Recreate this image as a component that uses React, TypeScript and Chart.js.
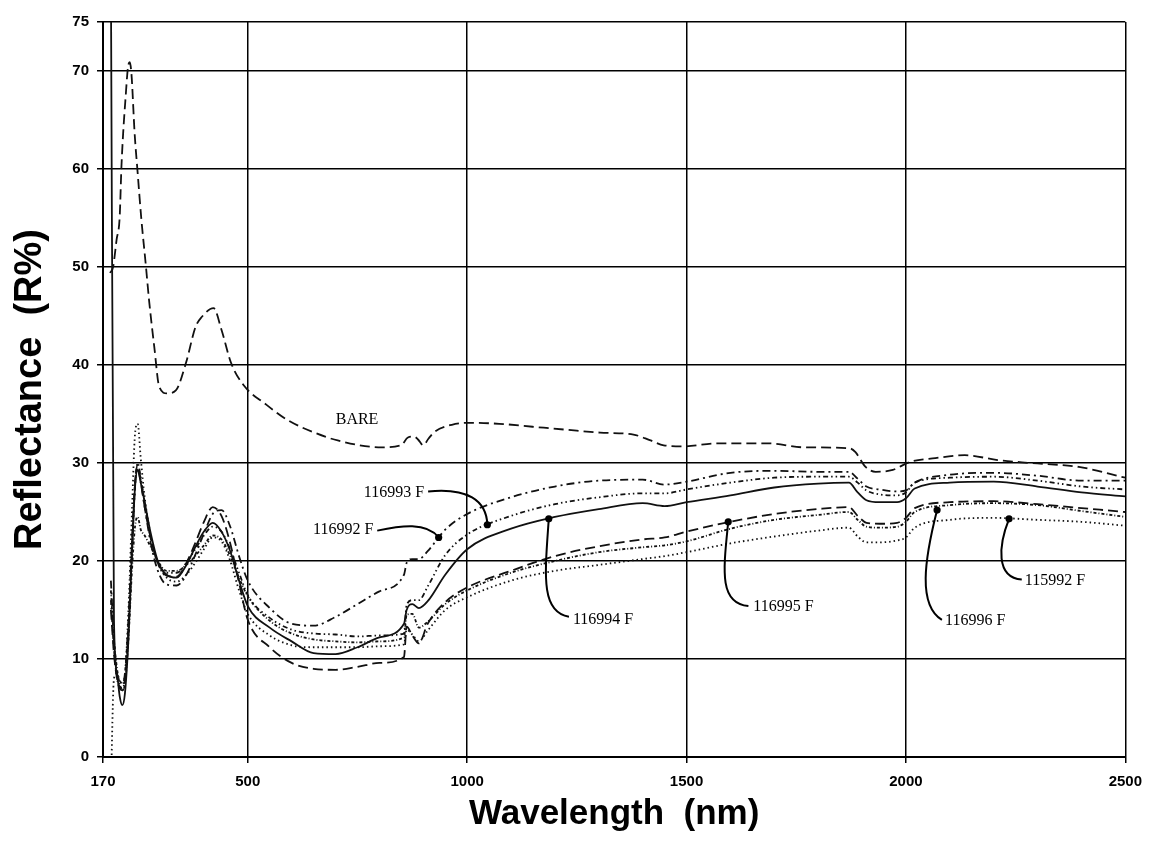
import React, { useEffect, useRef } from "react";
import { Chart, registerables } from "chart.js";

Chart.register(...registerables);

// ---------- axis ticks ----------
const X_TICKS = [170, 500, 1000, 1500, 2000, 2500];
const Y_TICKS = [0, 10, 20, 30, 40, 50, 60, 70, 75];

// ---------- BARE (uncoated) spectrum ----------
const BARE_WL = [186, 193, 201, 208, 212, 216, 221, 227, 231, 235,
  242, 249, 257, 268, 275, 287, 298, 316, 336, 359,
  381, 395, 422, 440, 462, 493, 538, 590, 652, 705,
  805, 849, 865, 879, 888, 900, 912, 926, 965, 1005,
  1073, 1149, 1225, 1303, 1379, 1418, 1448, 1494, 1568, 1690,
  1765, 1872, 1885, 1908, 1931, 1970, 2009, 2067, 2134, 2209,
  2283, 2394, 2500];
const BARE_R = [49.4, 50.0, 52.8, 55.1, 60.2, 63.7, 67.0, 70.4, 70.9, 69.6,
  63.7, 59.6, 55.1, 50.0, 46.6, 41.8, 37.8, 37.1, 37.4, 40.2,
  43.9, 44.9, 45.8, 43.6, 40.2, 37.8, 36.1, 34.4, 33.1, 32.3,
  31.6, 31.8, 32.6, 32.7, 32.4, 31.8, 32.5, 33.2, 33.9, 34.1,
  34.0, 33.7, 33.4, 33.1, 32.9, 32.3, 31.8, 31.7, 32.0, 32.0,
  31.6, 31.5, 31.1, 29.6, 29.1, 29.3, 30.1, 30.5, 30.8, 30.3,
  30.0, 29.6, 28.5];

// ---------- sample spectra (shared wavelength grid) ----------
const SAMPLE_WL = [188, 195, 202, 208, 214, 220, 228, 236, 243, 249,
  256, 265, 278, 295, 315, 338, 360, 380, 400, 420,
  440, 460, 480, 500, 550, 600, 650, 700, 750, 800,
  856, 862, 875, 890, 910, 950, 1000, 1100, 1200, 1300,
  1400, 1450, 1500, 1600, 1700, 1800, 1870, 1890, 1910, 1940,
  1980, 2000, 2020, 2100, 2200, 2300, 2400, 2500];

const R_116992F = [18, 12, 8.5, 7.8, 7.5, 8.5, 14, 22, 28, 29.5,
  28, 25.5, 22, 19, 17.6, 17.5, 18.6, 20.6, 22.8, 24.8,
  25.2, 23.5, 20.5, 18.0, 15.2, 13.6, 13.4, 14.3, 15.6, 16.9,
  18.6, 19.8, 20.2, 20.2, 21.0, 23.2, 24.8, 26.5, 27.6, 28.2,
  28.3, 27.8, 28.1, 29.0, 29.2, 29.1, 29.1, 28.4, 27.6, 27.3,
  27.1, 27.2, 28.0, 28.8, 29.0, 28.7, 28.2, 28.2];

const R_116993F = [16, 11, 8, 7.2, 7.0, 8, 13, 21, 27.5, 30.0,
  28.5, 26, 22.5, 19.8, 18.8, 18.8, 19.8, 21.2, 22.6, 23.5,
  23.0, 21.2, 18.8, 16.5, 14.2, 13.0, 12.6, 12.5, 12.3, 12.4,
  12.6, 15.5, 16.0, 16.0, 17.4, 20.6, 22.7, 24.6, 25.8, 26.5,
  26.9, 26.9, 27.3, 28.0, 28.5, 28.6, 28.6, 28.0, 27.2, 26.8,
  26.7, 27.0, 28.0, 28.5, 28.6, 28.2, 27.6, 27.3];

const R_116994F = [80, 14, 8.5, 6.2, 5.3, 6.5, 12, 21, 27.5, 29.3,
  28.0, 26.0, 23.0, 20.0, 18.6, 18.3, 19.6, 21.4, 23.0, 23.9,
  23.0, 21.0, 18.0, 15.4, 13.2, 11.8, 10.6, 10.5, 11.2, 12.2,
  13.6, 15.0, 15.6, 15.2, 15.9, 18.6, 21.2, 23.3, 24.5, 25.3,
  25.9, 25.6, 26.0, 26.7, 27.5, 27.9, 28.0, 27.0, 26.2, 26.0,
  26.0, 26.4, 27.4, 28.0, 28.1, 27.6, 27.0, 26.6];

const R_116995F = [15, 10.5, 8, 7, 6.8, 7.8, 13, 21, 27.8, 29.8,
  28.2, 25.5, 22.5, 19.8, 18.5, 18.4, 19.8, 21.8, 24.0, 25.5,
  24.6, 21.8, 17.8, 14.0, 11.2, 9.6, 9.0, 8.9, 9.2, 9.6,
  10.2, 13.3, 12.4, 11.6, 13.6, 15.8, 17.3, 19.0, 20.5, 21.5,
  22.2, 22.4, 23.0, 24.0, 24.8, 25.3, 25.5, 24.6, 23.9, 23.8,
  23.9, 24.4, 25.4, 26.0, 26.1, 25.8, 25.4, 25.0];

const R_116996F = [17, 12, 9, 7.5, 6.8, 7.5, 12, 19, 23.5, 24.5,
  23.2, 22.6, 21.5, 20.0, 19.0, 19.0, 19.6, 20.5, 21.6, 22.6,
  22.2, 20.5, 18.3, 16.4, 13.9, 12.6, 12.0, 11.8, 11.7, 11.8,
  12.2, 14.5, 14.6, 13.2, 13.8, 15.6, 17.0, 18.8, 20.0, 20.9,
  21.4, 21.6, 22.0, 23.3, 24.2, 24.7, 25.0, 24.2, 23.5, 23.4,
  23.5, 24.0, 25.0, 25.7, 25.9, 25.7, 25.1, 24.5];

const R_115992F = [-3, 8, 8.5, 7.8, 7.5, 8.5, 15, 25, 33, 34.0,
  30.5, 26.5, 22.8, 19.8, 18.3, 17.9, 18.6, 19.8, 21.2, 22.4,
  22.0, 20.0, 17.0, 14.6, 12.4, 11.4, 11.2, 11.2, 11.2, 11.3,
  11.5, 13.0, 12.5, 11.8, 12.9, 15.0, 16.3, 18.0, 19.0, 19.6,
  20.2, 20.5, 20.9, 21.8, 22.5, 23.1, 23.4, 22.5, 21.9, 21.9,
  22.1, 22.4, 23.4, 24.2, 24.4, 24.2, 24.0, 23.6];

// ---------- callout annotations (data coordinates: nm, R%) ----------
type Callout = {
  text: string;
  at: [number, number];
  align: CanvasTextAlign;
  path?: [number, number][];
  dot?: "start" | "end";
};
const CALLOUTS: Callout[] = [
  { text: "BARE", at: [749, 34.4], align: "center" },
  { text: "116993 F", at: [902, 27.0], align: "right", path: [[911, 27.1], [1000, 27.5], [1044, 26.2], [1046, 23.7]], dot: "end" },
  { text: "116992 F", at: [786, 23.2], align: "right", path: [[795, 23.1], [849, 23.6], [907, 24.0], [935, 22.4]], dot: "end" },
  { text: "116994 F", at: [1241, 14.0], align: "left", path: [[1186, 24.3], [1177, 18.6], [1167, 14.8], [1232, 14.3]], dot: "start" },
  { text: "116995 F", at: [1652, 15.3], align: "left", path: [[1595, 24.0], [1584, 19.1], [1573, 15.7], [1641, 15.4]], dot: "start" },
  { text: "116996 F", at: [2089, 13.9], align: "left", path: [[2071, 25.2], [2042, 20.1], [2027, 15.5], [2082, 14.0]], dot: "start" },
  { text: "115992 F", at: [2271, 18.0], align: "left", path: [[2235, 24.3], [2211, 21.6], [2204, 18.3], [2264, 18.1]], dot: "start" },
];

const calloutPlugin = {
  id: "callouts",
  afterDatasetsDraw(chart: any) {
    const { ctx, scales } = chart;
    const xs = scales.x;
    const ys = scales.y;
    const P = (p: [number, number]) => [xs.getPixelForValue(p[0]), ys.getPixelForValue(p[1])];
    ctx.save();
    ctx.fillStyle = "#000";
    ctx.strokeStyle = "#000";
    ctx.lineWidth = 2;
    ctx.setLineDash([]);
    ctx.font = '16px "Liberation Serif"';
    ctx.textBaseline = "middle";
    for (const c of CALLOUTS) {
      const [tx, ty] = P(c.at);
      ctx.textAlign = c.align;
      ctx.fillText(c.text, tx, ty);
      if (c.path) {
        const pts = c.path.map(P);
        ctx.beginPath();
        ctx.moveTo(pts[0][0], pts[0][1]);
        ctx.bezierCurveTo(pts[1][0], pts[1][1], pts[2][0], pts[2][1], pts[3][0], pts[3][1]);
        ctx.stroke();
        const d = c.dot === "start" ? pts[0] : pts[3];
        ctx.beginPath();
        ctx.arc(d[0], d[1], 3.6, 0, Math.PI * 2);
        ctx.fill();
      }
    }
    ctx.restore();
  },
};

const TICK_FONT = { family: '"Liberation Sans", Arial, sans-serif', size: 15, weight: "bold" as const };

export default function App() {
  const ref = useRef<HTMLCanvasElement>(null);

  useEffect(() => {
    const canvas = ref.current;
    if (!canvas) return;
    const toPts = (xs: number[], ys: number[]) => xs.map((x, i) => ({ x, y: ys[i] }));
    const mk = (label: string, xs: number[], ys: number[], dash: number[]) => ({
      label,
      data: toPts(xs, ys),
      borderColor: "#111",
      borderWidth: 1.8,
      borderDash: dash,
      pointRadius: 0,
      fill: false,
      cubicInterpolationMode: "monotone" as const,
    });

    const chart = new Chart(canvas, {
      type: "line",
      data: {
        datasets: [
          mk("BARE", BARE_WL, BARE_R, [10, 5]),
          mk("116992 F", SAMPLE_WL, R_116992F, [8, 4, 2, 4]),
          mk("116993 F", SAMPLE_WL, R_116993F, [5, 3, 1.5, 3, 1.5, 3]),
          mk("116994 F", SAMPLE_WL, R_116994F, []),
          mk("116995 F", SAMPLE_WL, R_116995F, [10, 5]),
          mk("116996 F", SAMPLE_WL, R_116996F, [3, 2, 1, 2]),
          mk("115992 F", SAMPLE_WL, R_115992F, [1.5, 3]),
        ] as any,
      },
      options: {
        animation: false,
        responsive: false,
        maintainAspectRatio: false,
        layout: { padding: { left: 8, right: 15, top: 22, bottom: 8 } },
        plugins: { legend: { display: false }, tooltip: { enabled: false } },
        scales: {
          x: {
            type: "linear",
            min: 170,
            max: 2500,
            afterBuildTicks: (s: any) => {
              s.ticks = X_TICKS.map((v) => ({ value: v }));
            },
            afterFit: (s: any) => {
              s.height = 95;
            },
            ticks: {
              font: TICK_FONT,
              color: "#000",
              padding: 10,
              maxRotation: 0,
              autoSkip: false,
              callback: (v: any) => String(v),
            },
            grid: { color: "#000", lineWidth: 1.5, tickLength: 6, tickColor: "#000", tickWidth: 1.5 },
            border: { display: true, color: "#000", width: 2 },
            title: {
              display: true,
              text: "Wavelength  (nm)",
              color: "#000",
              font: { family: '"Liberation Sans", Arial, sans-serif', size: 35, weight: "bold" },
              padding: { top: 0, bottom: 17 },
            },
          },
          y: {
            type: "linear",
            min: 0,
            max: 75,
            afterBuildTicks: (s: any) => {
              s.ticks = Y_TICKS.map((v) => ({ value: v }));
            },
            afterFit: (s: any) => {
              s.width = 95;
            },
            ticks: { font: TICK_FONT, color: "#000", padding: 8, autoSkip: false, callback: (v: any) => String(v) },
            grid: { color: "#000", lineWidth: 1.5, tickLength: 6, tickColor: "#000", tickWidth: 1.5 },
            border: { display: true, color: "#000", width: 2 },
            title: {
              display: true,
              text: "Reflectance  (R%)",
              color: "#000",
              font: { family: '"Liberation Sans", Arial, sans-serif', size: 38, weight: "bold" },
              padding: { top: 0, bottom: 0 },
            },
          },
        },
      } as any,
      plugins: [calloutPlugin],
    });
    return () => chart.destroy();
  }, []);

  return (
    <div style={{ position: "fixed", left: 0, top: 0, width: 1152, height: 860, background: "#fff" }}>
      <canvas ref={ref} width={1152} height={860} style={{ width: 1152, height: 860, display: "block" }} />
    </div>
  );
}
